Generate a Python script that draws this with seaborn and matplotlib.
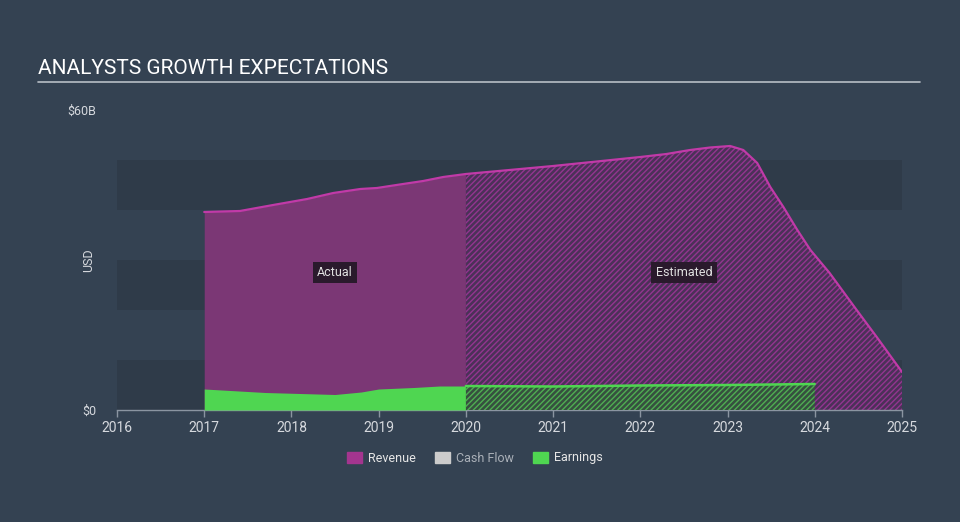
import numpy as np
import pandas as pd
import matplotlib
matplotlib.use('Agg')
import matplotlib.pyplot as plt
import seaborn as sns

# values, in $B
rev_years = [2017.0, 2017.41, 2017.79, 2018.18, 2018.48, 2018.79, 2018.98, 2019.28,
             2019.51, 2019.74, 2020.0, 2020.5, 2021.0, 2021.5, 2022.0, 2022.3,
             2022.57, 2022.8, 2023.03, 2023.18, 2023.34, 2023.49, 2023.64, 2023.8,
             2023.95, 2024.17, 2024.48, 2024.71, 2025.0]
rev_vals = [39.6, 39.8, 41.0, 42.2, 43.4, 44.2, 44.4, 45.2,
            45.8, 46.6, 47.2, 48.0, 48.8, 49.7, 50.6, 51.2,
            52.0, 52.5, 52.8, 52.0, 49.4, 44.6, 40.6, 36.0,
            32.0, 27.4, 20.0, 14.6, 7.6]
earn_years = [2017.0, 2017.3, 2017.7, 2018.1, 2018.5, 2018.8, 2019.0, 2019.4,
              2019.7, 2020.0, 2021.0, 2022.0, 2023.0, 2024.0]
earn_vals = [4.2, 3.9, 3.5, 3.3, 3.1, 3.6, 4.2, 4.5,
             4.8, 4.8, 4.7, 4.9, 5.0, 5.2]
split_year = 2020.0
x_ticks = [2016, 2017, 2018, 2019, 2020, 2021, 2022, 2023, 2024, 2025]
legend_names = ['Revenue', 'Cash Flow', 'Earnings']

rev = pd.DataFrame({'year': rev_years, 'value': rev_vals})
earn = pd.DataFrame({'year': earn_years, 'value': earn_vals})

bg = '#344252'
sns.set_theme(style='dark')
plt.rcParams['font.family'] = ['Roboto', 'DejaVu Sans']
plt.rcParams['hatch.linewidth'] = 1.0

fig = plt.figure(figsize=(9.6, 5.22), dpi=100, facecolor=bg)
ax = fig.add_axes([117/960, 112/522, 785/960, 300/522])
ax.set_facecolor(bg)

# horizontal bands
for lo in [0, 20, 40]:
    ax.axhspan(lo, lo + 10, color='#2f3b49', zorder=0, lw=0)

rev_a = rev[rev.year <= split_year]
rev_e = rev[rev.year >= split_year]
earn_a = earn[earn.year <= split_year]
earn_e = earn[earn.year >= split_year]

ax.fill_between(rev_a.year, 0, rev_a.value, color='#7b3775', lw=0, zorder=2)
ax.fill_between(rev_e.year, 0, rev_e.value, facecolor='#4b3158', edgecolor='#933590',
                hatch='//////', lw=0, zorder=2)
ax.fill_between(earn_a.year, 0, earn_a.value, color='#4fd651', lw=0, zorder=3)
ax.fill_between(earn_e.year, 0, earn_e.value, facecolor='#36503f', edgecolor='#4fae52',
                hatch='//////', lw=0, zorder=3)

sns.lineplot(data=rev, x='year', y='value', color='#c13aa8', lw=1.6, ax=ax, zorder=4)
sns.lineplot(data=earn_e, x='year', y='value', color='#4fd651', lw=1.8, ax=ax, zorder=4)

ax.set_xlim(2016, 2025)
ax.set_ylim(0, 60)
ax.set_xticks(x_ticks)
ax.set_xticklabels([str(t) for t in x_ticks], color='#d6d9de', fontsize=10)
ax.set_yticks([0, 60])
ax.set_yticklabels(['$0', '$60B'], color='#d6d9de', fontsize=9)
ax.tick_params(axis='x', length=5, color='#8b95a1', width=1, pad=3, bottom=True)
ax.tick_params(axis='y', length=0, pad=15)
for s in ['top', 'right', 'left']:
    ax.spines[s].set_visible(False)
ax.spines['bottom'].set_color('#8b95a1')
ax.spines['bottom'].set_linewidth(1)
ax.set_xlabel('')
ax.set_ylabel('USD', color='#d6d9de', fontsize=9)
ax.yaxis.set_label_coords(-22/785, 0.5)

box = dict(boxstyle='square,pad=0.35', fc='#2a1a2c', ec='none')
ax.text(2018.5, 27.5, 'Actual', color='#e0e0e0', fontsize=9, ha='center', va='center', bbox=box)
ax.text(2022.5, 27.5, 'Estimated', color='#e0e0e0', fontsize=9, ha='center', va='center', bbox=box)

fig.text(38/960, 1 - 68/522, 'ANALYSTS GROWTH EXPECTATIONS', color='white', fontsize=15,
         va='center', ha='left')
fig.add_artist(plt.Line2D([38/960, 920/960], [1 - 82/522, 1 - 82/522], color='#b8bec6', lw=1.2))

handles = [plt.Rectangle((0, 0), 1, 1, color=c) for c in ['#a4358f', '#cccccc', '#4fd651']]
leg = fig.legend(handles, legend_names, loc='center', bbox_to_anchor=(475/960, 1 - 458/522),
                 ncol=3, frameon=False, fontsize=9, handlelength=1.2, handleheight=1.0,
                 columnspacing=1.5, handletextpad=0.5)
for t, c in zip(leg.get_texts(), ['#e6e6e6', '#aab0b8', '#e6e6e6']):
    t.set_color(c)

fig.savefig('out.png', dpi=100, facecolor=bg)
